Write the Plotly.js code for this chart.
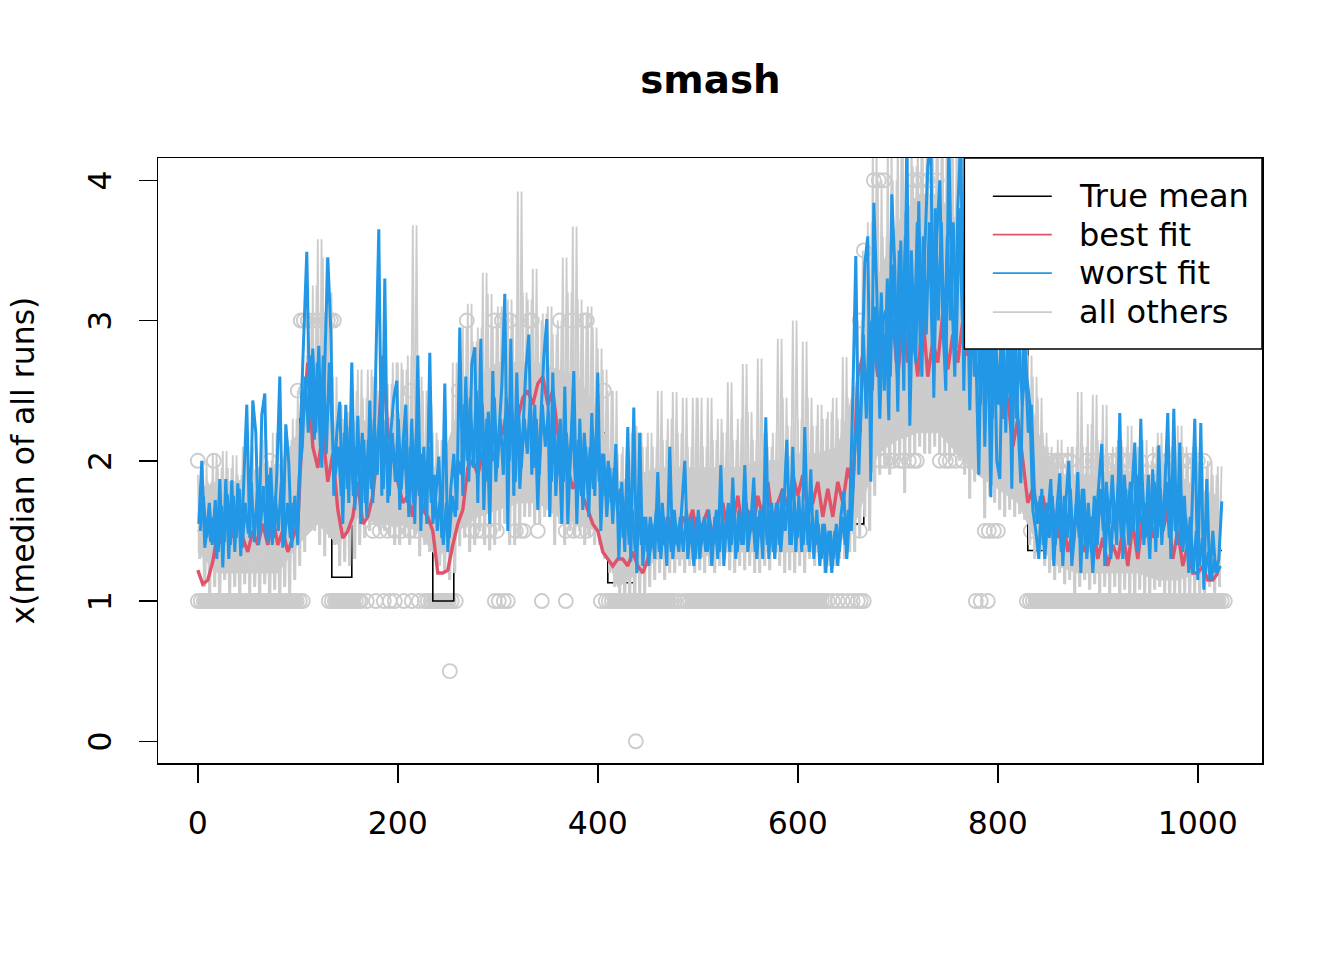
<!DOCTYPE html>
<html><head><meta charset="utf-8">
<script src="https://cdn.plot.ly/plotly-3.0.1.min.js"></script>
<style>html,body{margin:0;padding:0;background:#fff}</style></head>
<body><div id="chart" style="width:1344px;height:960px"></div>
<script>
const xTicks=[0,200,400,600,800,1000];
const yTicks=[0,1,2,3,4];
const seriesNames=['True mean','best fit','worst fit','all others'];
const seriesColors=['#000000','#DF536B','#2297E6','#CCCCCC'];

const trueMeanX=[0,102,102,134,134,154,154,235,235,256,256,410,410,437,437,666,666,830,830,1024];
const trueMeanY=[1.5,1.5,2.3,2.3,1.17,1.17,1.8,1.8,1.0,1.0,2.2,2.2,1.13,1.13,1.55,1.55,2.8,2.8,1.36,1.36];

// worst fit, read every 3 index units from x=1
const worstFit=[
1.55,2.0,1.38,1.57,1.42,1.6,1.3,1.87,1.24,1.87,
1.3,1.86,1.35,1.84,1.32,1.85,2.4,1.45,2.43,2.2,
1.4,2.33,2.48,1.42,1.95,1.45,1.9,2.6,1.38,2.26,
1.98,1.38,1.75,1.4,2.3,2.9,3.49,2.3,2.8,2.2,
2.82,1.95,2.8,3.45,2.93,1.75,2.2,2.42,1.55,2.4,
1.7,2.7,1.65,2.32,1.55,2.15,1.6,2.43,1.7,2.6,
3.65,1.75,3.3,1.7,2.2,2.45,2.57,1.65,2.1,2.4,
1.6,2.3,1.55,2.75,1.5,2.1,1.55,2.77,1.55,1.75,
2.03,1.45,2.55,1.35,1.8,2.05,1.65,2.95,1.75,2.6,
1.85,2.69,2.81,1.7,2.87,1.65,2.3,1.55,2.64,1.85,
2.2,2.53,3.19,1.5,2.87,1.75,2.63,1.8,2.2,2.64,
2.9,1.9,2.4,1.65,2.3,2.74,3.01,1.6,2.63,1.75,
2.2,1.55,2.53,1.55,2.1,2.64,1.55,2.3,1.65,2.1,
1.6,2.34,1.75,2.63,1.5,2.05,1.6,1.95,1.55,2.12,
1.3,1.85,1.35,2.24,1.28,2.38,1.2,2.2,1.25,1.6,
1.25,1.55,1.3,1.92,1.3,1.6,1.25,2.1,1.3,1.55,
1.35,1.7,2.0,1.3,1.55,1.25,1.6,1.3,1.55,1.35,
1.65,1.25,1.6,1.3,1.97,1.25,1.6,1.35,1.88,1.3,
1.65,1.4,1.97,1.35,1.55,1.88,1.3,1.65,1.3,2.31,
1.3,1.7,1.3,1.7,1.35,1.65,2.15,1.4,2.1,1.35,
1.75,1.35,2.24,1.4,1.94,1.3,1.65,1.25,1.55,1.2,
1.5,1.2,1.5,1.25,1.6,1.78,1.3,1.65,2.45,3.46,
1.9,2.57,3.41,3.6,1.85,3.84,3.21,2.3,3.0,3.07,
2.29,3.9,3.38,2.35,3.57,2.5,4.3,2.25,3.2,2.7,
3.85,2.6,3.5,4.1,4.3,2.45,3.6,4.0,3.0,2.5,
4.3,3.2,2.6,3.8,4.3,2.5,3.5,2.36,3.4,2.8,
1.9,3.2,2.1,3.0,1.74,3.1,2.0,1.87,3.0,2.2,
3.2,1.8,3.1,2.3,1.84,3.0,2.6,2.4,1.65,1.5,
1.3,1.8,1.3,1.6,1.87,1.25,1.65,1.91,1.25,1.7,
2.0,1.25,1.5,1.92,1.2,1.8,1.3,1.6,1.2,1.55,
1.84,2.12,1.25,1.7,1.3,1.7,1.4,2.34,1.3,1.8,
1.4,1.75,2.13,1.35,2.3,1.4,1.7,1.3,1.94,1.35,
2.11,1.4,1.8,2.34,1.3,2.37,1.4,2.13,1.35,1.6,
1.2,1.6,2.3,1.15,2.27,1.08,1.87,1.15,1.5,1.2,
1.3,1.71];

// worst fit, readings between the above, every 3 index units from x=2.5
const worstFitBetween=[
1.5,1.75,1.45,1.7,1.4,1.72,1.35,1.68,1.42,1.76,
1.4,1.75,1.45,1.8,1.38,1.7,1.48,1.85,1.42,1.78,
1.5,1.82,1.45,1.9,1.4,1.75,1.5,1.85,1.4,1.7,
1.45,1.7,1.5,1.9,2.1,2.6,2.2,2.75,2.15,2.7,
2.1,2.75,2.05,2.7,2.2,1.9,2.1,1.75,2.2,1.8,
2.25,1.75,2.1,1.85,2.2,1.7,2.15,1.8,2.3,1.9,
2.4,1.8,2.3,1.75,2.2,1.85,2.3,1.8,2.15,1.7,
2.1,1.7,2.2,1.75,2.05,1.65,2.1,1.7,1.9,1.5,
1.75,1.4,1.7,1.45,1.75,1.6,2.0,1.9,2.4,2.0,
2.45,1.95,2.5,2.0,2.4,1.85,2.35,2.0,2.45,1.95,
2.3,1.9,2.45,2.0,2.35,1.85,2.4,1.95,2.3,2.05,
2.45,1.95,2.3,1.9,2.4,2.1,2.35,1.85,2.25,1.9,
2.3,1.85,2.2,1.9,2.3,1.85,2.15,1.75,2.2,1.85,
2.1,1.8,2.2,1.85,2.05,1.75,2.0,1.7,1.95,1.65,
1.8,1.45,1.75,1.4,1.65,1.35,1.7,1.4,1.6,1.35,
1.6,1.4,1.65,1.35,1.7,1.4,1.6,1.35,1.65,1.4,
1.6,1.35,1.65,1.45,1.6,1.3,1.65,1.4,1.6,1.35,
1.55,1.4,1.65,1.35,1.6,1.45,1.7,1.4,1.65,1.35,
1.6,1.4,1.7,1.45,1.65,1.35,1.6,1.45,1.7,1.4,
1.65,1.35,1.7,1.4,1.8,1.5,1.75,1.4,1.7,1.45,
1.65,1.4,1.7,1.35,1.6,1.4,1.55,1.3,1.55,1.35,
1.5,1.3,1.55,1.35,1.6,1.4,1.65,1.5,2.0,2.4,
2.2,2.9,2.3,3.0,2.5,3.1,2.6,3.2,2.5,3.3,
2.6,3.4,2.7,3.5,2.8,3.6,2.7,3.5,2.9,3.7,
2.8,3.6,2.9,3.7,2.8,3.8,3.0,3.7,2.8,3.6,
3.0,3.7,2.8,3.8,3.0,3.5,2.8,3.3,2.6,3.2,
2.4,3.0,2.5,3.1,2.3,3.0,2.4,2.9,2.3,2.8,
2.4,2.9,2.3,2.8,2.4,2.7,2.2,2.4,1.8,1.55,
1.75,1.4,1.7,1.45,1.75,1.4,1.7,1.35,1.75,1.45,
1.8,1.4,1.7,1.45,1.8,1.4,1.7,1.35,1.75,1.4,
1.8,1.5,1.85,1.55,1.9,1.5,1.85,1.45,1.9,1.55,
1.85,1.5,1.9,1.55,1.85,1.45,1.9,1.5,1.85,1.45,
1.8,1.5,1.85,1.45,1.9,1.5,1.8,1.4,1.75,1.35,
1.6,1.2,1.5,1.25,1.45,1.2,1.35,1.15,1.3,1.2,
1.25];

// best fit, read every 5 index units from x=0
const bestFit=[
1.22,1.12,1.15,1.28,1.5,1.4,1.7,1.45,1.6,1.45,
1.35,1.5,1.4,1.55,1.4,1.6,1.4,1.5,1.35,1.45,
1.55,2.3,2.7,2.1,1.95,2.2,1.85,2.05,1.65,1.45,
1.5,1.6,1.85,1.55,1.6,1.75,2.1,2.75,2.2,2.1,
1.85,1.7,1.75,1.6,1.9,1.65,1.6,1.5,1.2,1.2,
1.22,1.4,1.55,1.65,1.95,2.0,1.9,2.05,2.1,2.0,
2.15,2.2,2.4,2.2,2.3,2.45,2.5,2.4,2.55,2.6,
2.4,2.5,2.2,2.0,1.95,1.8,1.9,1.75,1.65,1.55,
1.5,1.35,1.3,1.25,1.3,1.3,1.25,1.35,1.25,1.2,
1.3,1.45,1.55,1.4,1.6,1.5,1.4,1.6,1.55,1.65,
1.4,1.55,1.65,1.45,1.6,1.7,1.5,1.55,1.75,1.5,
1.65,1.5,1.75,1.6,1.85,1.55,1.7,1.8,1.65,1.9,
1.75,1.9,1.65,1.7,1.85,1.6,1.8,1.6,1.85,1.7,
1.95,1.8,2.6,2.75,2.5,2.9,2.6,2.9,2.7,3.0,
2.6,3.0,2.7,2.9,2.6,3.05,2.6,2.85,2.7,3.05,
2.65,2.9,2.7,3.0,2.75,2.8,2.6,2.85,2.5,2.7,
2.6,2.3,2.45,2.1,2.3,2.0,1.7,1.8,1.65,1.75,
1.55,1.65,1.45,1.6,1.35,1.5,1.6,1.35,1.45,1.6,
1.3,1.45,1.25,1.4,1.3,1.5,1.25,1.55,1.3,1.6,
1.7,1.45,1.6,1.5,1.65,1.3,1.5,1.25,1.4,1.2,
1.2,1.25,1.15,1.15,1.2];

// other runs: highest and lowest readings every 5 index units from x=0
const othersHigh=[
1.9,2.0,1.85,2.05,1.95,2.07,1.95,2.04,1.9,2.1,
2.0,2.1,1.95,2.15,2.0,2.2,2.05,2.0,2.15,2.3,
2.5,2.75,3.05,3.25,3.58,3.45,3.2,2.6,2.4,2.3,
2.35,2.5,2.65,2.45,2.65,2.6,2.5,2.4,2.55,2.7,
2.7,2.65,2.75,3.68,2.6,2.5,2.4,2.2,2.15,2.1,
2.1,2.7,2.5,2.95,3.12,2.85,2.95,3.34,3.19,2.95,
3.1,3.0,3.15,3.05,3.92,3.2,3.15,3.37,3.0,3.05,
3.1,2.9,3.0,3.45,3.2,3.67,3.15,3.05,3.1,2.95,
2.8,2.65,2.5,2.5,2.05,2.1,2.2,2.25,2.2,2.1,
2.2,2.1,2.5,2.15,2.3,2.49,2.2,2.45,2.1,2.45,
2.45,2.1,2.45,2.15,2.3,2.2,2.56,2.15,2.3,2.69,
2.35,2.15,2.73,2.2,2.1,2.2,2.87,2.45,2.25,3.0,
2.3,2.85,2.45,2.25,2.4,2.3,2.35,2.45,2.3,2.74,
2.45,2.6,3.0,3.5,3.7,4.3,4.0,3.6,4.3,4.0,
4.4,4.3,4.4,4.1,4.4,4.2,4.4,4.3,4.4,4.25,
4.4,4.3,4.4,4.2,4.0,3.9,3.8,3.6,3.5,3.5,
3.4,3.3,3.2,3.2,3.1,3.0,2.75,2.6,2.45,2.2,
2.1,2.05,2.15,2.0,2.1,2.1,2.49,2.1,2.26,2.47,
2.15,2.4,2.05,2.1,2.15,2.1,2.25,2.05,2.1,2.15,
2.0,2.1,2.2,2.05,2.1,2.0,2.25,2.1,2.05,2.1,
2.0,1.95,2.0,1.9,1.96];
const othersLow=[
1.3,1.1,1.05,1.1,1.0,1.15,1.05,1.1,1.0,1.12,
1.05,1.1,1.0,1.12,0.98,1.08,1.0,1.1,1.05,1.15,
1.25,1.35,1.5,1.5,1.4,1.32,1.45,1.4,1.25,1.28,
1.25,1.3,1.4,1.45,1.5,1.55,1.5,1.5,1.45,1.4,
1.4,1.45,1.4,1.45,1.32,1.4,1.35,1.35,1.25,1.2,
1.15,1.2,1.39,1.45,1.35,1.4,1.5,1.4,1.36,1.4,
1.5,1.55,1.4,1.4,1.45,1.6,1.6,1.55,1.55,1.6,
1.6,1.4,1.55,1.4,1.5,1.45,1.5,1.4,1.45,1.4,
1.4,1.3,1.2,1.1,1.05,0.95,1.0,0.95,1.02,1.05,
1.1,1.15,1.2,1.15,1.2,1.2,1.25,1.2,1.25,1.2,
1.22,1.2,1.25,1.2,1.25,1.3,1.22,1.2,1.25,1.22,
1.25,1.2,1.2,1.25,1.22,1.3,1.25,1.2,1.22,1.2,
1.25,1.2,1.3,1.25,1.3,1.2,1.25,1.25,1.3,1.3,
1.35,1.35,1.45,1.6,1.5,1.75,1.9,1.95,1.9,1.95,
2.0,1.77,2.0,2.05,2.1,2.05,2.05,2.1,2.05,2.05,
2.0,2.05,2.0,1.9,1.73,1.85,1.9,1.59,1.75,1.7,
1.65,1.6,1.65,1.6,1.62,1.58,1.4,1.3,1.35,1.25,
1.2,1.15,1.2,1.12,1.15,1.05,1.1,1.15,1.08,1.12,
1.0,1.1,1.05,1.1,1.0,1.08,1.05,1.0,1.08,1.05,
1.0,1.08,1.1,1.05,0.98,1.05,1.0,1.05,0.98,1.05,
1.0,1.05,1.1,1.05,1.1];

// solid part of the band of other runs, every 20 index units from x=0
const othersCoreHigh=[1.8,1.85,1.85,1.95,1.95,2.2,2.8,2.15,2.3,2.25,2.35,2.2,1.9,2.35,2.6,2.7,2.7,2.7,2.65,2.6,2.35,1.85,1.9,1.95,1.95,1.95,1.95,1.95,2.0,2.0,2.05,2.05,2.1,2.6,3.3,3.7,3.9,3.9,3.7,3.2,3.0,2.9,2.2,1.9,1.9,1.9,1.95,1.9,1.9,1.9,1.8,1.75];
const othersCoreLow=[1.35,1.2,1.2,1.2,1.2,1.4,1.55,1.4,1.6,1.55,1.55,1.5,1.3,1.5,1.6,1.65,1.7,1.7,1.6,1.55,1.5,1.1,1.2,1.3,1.3,1.3,1.35,1.35,1.35,1.35,1.35,1.35,1.4,1.6,2.05,2.15,2.2,2.2,2.05,1.9,1.8,1.7,1.4,1.25,1.2,1.2,1.2,1.2,1.15,1.15,1.2,1.2];

// median-of-runs circles, positions by level
const circlesAt0=[438];
const circlesAt05=[252];
const circlesAt1=[0,3,6,9,12,15,18,21,24,27,30,33,36,39,42,45,48,51,54,57,60,63,66,69,72,75,78,81,84,87,90,93,96,99,102,105,
131,134,137,140,143,146,149,152,155,158,161,163,169,178,186,192,197,206,214,221,227,230,233,236,239,242,245,248,251,254,258,
297,301,306,310,344,368,403,408,411,414,417,420,423,426,429,432,435,438,441,444,447,450,453,456,459,462,465,468,471,474,477,481,
486,489,492,495,498,501,504,507,510,513,516,519,522,525,528,531,534,537,540,543,546,549,552,555,558,561,564,567,570,573,576,579,582,585,588,591,594,597,600,603,606,609,612,615,618,621,624,627,630,635,640,645,650,655,660,663,666,
778,783,790,
829,832,835,838,841,844,847,850,853,856,859,862,865,868,871,874,877,880,883,886,889,892,895,898,901,904,907,910,913,916,919,922,925,928,931,934,937,940,943,946,949,952,955,958,961,964,967,970,973,976,979,982,985,988,991,994,997,1000,1003,1006,1009,1012,1015,1018,1021,1024,1027];
const circlesAt15=[175,182,190,197,204,212,218,274,279,285,292,299,318,323,326,340,368,376,383,389,662,787,791,796,800,833];
const circlesAt2=[0,16,72,683,688,695,702,706,711,716,719,742,748,752,758,765,772,776,852,858,863,868,872,889,895,899,912,918,925,932,937,942,956,962,970,978,985,992,1000,1006];
const circlesAt25=[100,108,213,261,406];
const circlesAt3=[103,106,110,115,120,125,130,133,136,269,296,304,312,331,334,362,374,386,389,662];
const circlesAt35=[666];
const circlesAt4=[676,681,686,716,722,730,739];
// stretches of index where circles at level 1 overlap into a solid bar
const solidBarStart=[0,131,229,410,487,830];
const solidBarEnd=[105,163,256,478,628,1027];

const step3=(v,o)=>v.map((_,i)=>o+3*i);
const step5=(v)=>v.map((_,i)=>5*i);
const step20=(v)=>v.map((_,i)=>20*i);

const circleX=[...circlesAt0,...circlesAt05,...circlesAt1,...circlesAt15,...circlesAt2,...circlesAt25,...circlesAt3,...circlesAt35,...circlesAt4];
const circleY=[...circlesAt0.map(()=>0),...circlesAt05.map(()=>0.5),...circlesAt1.map(()=>1),...circlesAt15.map(()=>1.5),...circlesAt2.map(()=>2),...circlesAt25.map(()=>2.5),...circlesAt3.map(()=>3),...circlesAt35.map(()=>3.5),...circlesAt4.map(()=>4)];

const barX=[],barY=[];
solidBarStart.forEach((s,i)=>{barX.push(s,solidBarEnd[i],null);barY.push(1,1,null);});

const zigXA=[],zigXB=[],zigA=[],zigB=[];
othersHigh.forEach((h,i)=>{
  zigXA.push(5*i,5*i+2.5);
  zigXB.push(5*i+1.25,5*i+3.75);
  zigA.push(h,othersLow[i]);
  zigB.push(othersLow[i],h);
});
const coreX=[...step20(othersCoreHigh),...step20(othersCoreLow).reverse()];
const coreY=[...othersCoreHigh,...[...othersCoreLow].reverse()];

const gray=seriesColors[3];
const traces=[
 {x:barX,y:barY,mode:'lines',name:'medians',showlegend:false,line:{color:gray,width:15.5}},
 {x:circleX,y:circleY,mode:'markers',type:'scatter',name:'medians',showlegend:false,hoverinfo:'skip',
  marker:{symbol:'circle-open',size:14,color:gray,line:{width:1.9,color:gray}}},
 {x:trueMeanX,y:trueMeanY,mode:'lines',name:seriesNames[0],showlegend:false,line:{color:seriesColors[0],width:1.6}},
 {x:coreX,y:coreY,mode:'lines',name:seriesNames[3],showlegend:false,fill:'toself',fillcolor:gray,line:{color:gray,width:1}},
 {x:zigXA,y:zigA,mode:'lines',name:seriesNames[3],showlegend:false,line:{color:gray,width:1.8}},
 {x:zigXB,y:zigB,mode:'lines',name:seriesNames[3],showlegend:false,line:{color:gray,width:1.8}},
 {x:step5(bestFit),y:bestFit,mode:'lines',name:seriesNames[1],showlegend:false,line:{color:seriesColors[1],width:3.4}},
 {x:step3(worstFit,1),y:worstFit,mode:'lines',name:seriesNames[2],showlegend:false,line:{color:seriesColors[2],width:3}},
 {x:step3(worstFitBetween,2.5),y:worstFitBetween,mode:'lines',name:seriesNames[2],showlegend:false,line:{color:seriesColors[2],width:3}}
];

const L=157.7,R=1262.3,T=157.7,B=763.3;
const px=(v)=>(v-L)/(R-L), py=(v)=>(B-v)/(B-T);
const legendRows=[196,234.5,273,312];
const shapes=[{type:'rect',layer:'above',xref:'paper',yref:'paper',x0:px(964.5),x1:1,y0:py(349),y1:1,fillcolor:'#fff',line:{color:'#000',width:1.5}}];
const annotations=[];
seriesNames.forEach((n,i)=>{
  shapes.push({type:'line',layer:'above',xref:'paper',yref:'paper',x0:px(993),x1:px(1052),y0:py(legendRows[i]),y1:py(legendRows[i]),line:{color:seriesColors[i],width:1.7}});
  annotations.push({text:n,xref:'paper',yref:'paper',x:px(1078.5),y:py(legendRows[i]),xanchor:'left',yanchor:'middle',showarrow:false,font:{size:32,color:'#000'},borderpad:0});
});

const layout={
 width:1344,height:960,paper_bgcolor:'#fff',plot_bgcolor:'#fff',
 margin:{l:L,r:1344-R,t:T,b:960-B,pad:0},
 font:{family:'"DejaVu Sans",sans-serif',color:'#000',size:31},
 title:{text:'<b>smash</b>',font:{size:38.8,color:'#000'},x:710.5/1344,xanchor:'center',y:1-79/960,yanchor:'middle'},
 xaxis:{range:[-39.8,1064.2],tickvals:xTicks,ticktext:xTicks.map(String),showgrid:false,zeroline:false,showline:true,mirror:true,linewidth:1.5,linecolor:'#000',ticks:'outside',ticklen:18,tickwidth:1.5,tickcolor:'#000',tickfont:{size:31.5},ticklabelstandoff:14},
 yaxis:{range:[-0.155,4.159],tickvals:yTicks,ticktext:yTicks.map(String),showgrid:false,zeroline:false,showline:true,mirror:true,linewidth:1.5,linecolor:'#000',ticks:'outside',ticklen:18,tickwidth:1.5,tickcolor:'#000',tickfont:{size:31.5},tickangle:-90,ticklabelstandoff:15,ticklabelshift:5,
   title:{text:'x(median of all runs)',font:{size:31.5},standoff:38}},
 shapes,annotations,
 showlegend:false
};
Plotly.newPlot('chart',traces,layout,{displayModeBar:false,staticPlot:true});
</script></body></html>
